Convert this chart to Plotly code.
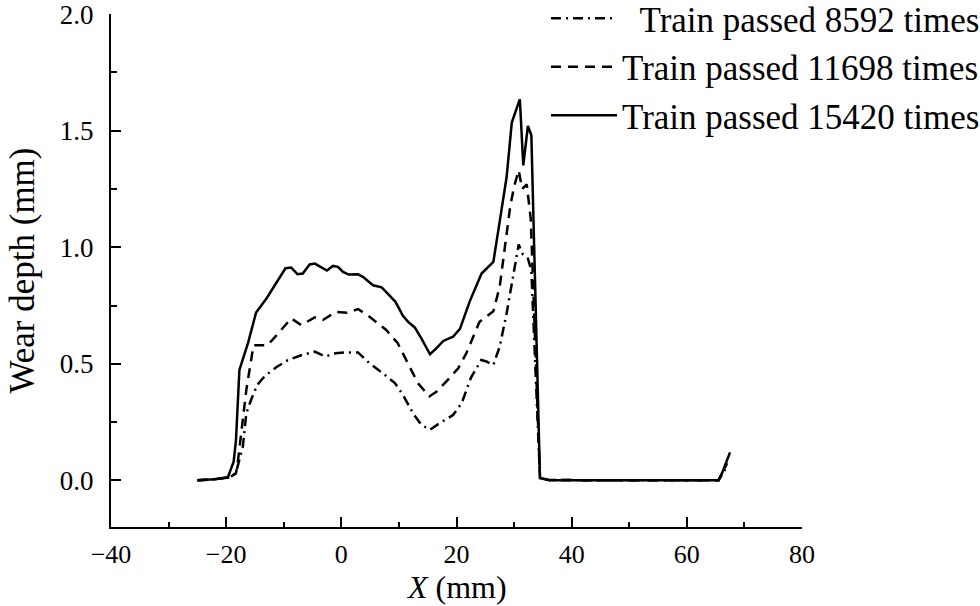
import plotly.graph_objects as go

# Wear profile across the rail head, X position (mm) vs wear depth (mm)
x_8592 = [-25, -22, -19.4, -18.3, -17.1, -16.5, -15.6, -14.6, -13.3, -11.3, -9.3, -6.8,
          -4.6, -2.8, -1.0, 0.9, 2.9, 4.9, 7.2, 9.3, 10.7, 12.45, 13.9, 15.4, 17.1, 19.4,
          20.9, 22.5, 24.3, 25.2, 26.4, 27.5, 28.7, 29.6, 30.8, 31.5, 32.4, 33.0, 34.5,
          36, 40, 45, 50, 55, 60, 65.5, 67.0]
y_8592 = [0.0, 0.005, 0.013, 0.032, 0.145, 0.288, 0.35, 0.41, 0.447, 0.485, 0.516, 0.538,
          0.552, 0.531, 0.545, 0.549, 0.549, 0.502, 0.46, 0.417, 0.367, 0.288, 0.238, 0.217,
          0.246, 0.28, 0.331, 0.44, 0.516, 0.51, 0.495, 0.573, 0.716, 0.845, 1.012, 0.97,
          0.952, 0.90, 0.01, 0.002, 0.0, 0.0, 0.0, 0.0, 0.0, 0.0, 0.06]

x_11698 = [-25, -22, -19.4, -18.3, -18.0, -17.4, -16.5, -15.25, -12.8, -10.7, -8.7, -7.0,
           -4.6, -3.2, -0.9, 1.0, 2.9, 4.9, 7.8, 9.8, 11.6, 13.3, 15.3, 16.5, 18.5, 20.3,
           21.7, 24.0, 26.4, 27.5, 28.4, 29.3, 30.0, 30.8, 31.4, 32.2, 32.9, 34.5,
           36, 40, 45, 50, 55, 60, 65.5, 67.0]
y_11698 = [0.0, 0.005, 0.013, 0.03, 0.074, 0.2, 0.388, 0.58, 0.58, 0.638, 0.695, 0.666,
           0.699, 0.688, 0.723, 0.719, 0.735, 0.702, 0.645, 0.588, 0.502, 0.417, 0.36, 0.38,
           0.431, 0.481, 0.545, 0.68, 0.725, 0.83, 1.0, 1.17, 1.26, 1.33, 1.25, 1.27, 1.12,
           0.01, 0.002, 0.0, 0.0, 0.0, 0.0, 0.0, 0.0, 0.074]

x_15420 = [-25, -22, -19.7, -18.7, -18.3, -17.7, -16.2, -14.8, -13.0, -11.3, -9.7, -8.7,
           -7.6, -6.7, -5.5, -4.6, -3.5, -2.5, -1.45, -0.6, 0.3, 1.3, 2.9, 3.75, 5.5, 7.0,
           8.1, 9.4, 10.7, 11.6, 12.75, 13.9, 15.4, 16.5, 17.7, 19.4, 20.6, 22.3, 24.35,
           26.4, 27.5, 28.7, 29.6, 31.0, 31.6, 32.4, 33.0, 34.5, 36.2, 40, 45, 50, 55, 60,
           65.5, 66.1, 67.5]
y_15420 = [0.0, 0.005, 0.014, 0.08, 0.17, 0.474, 0.59, 0.72, 0.78, 0.845, 0.91, 0.913,
           0.884, 0.887, 0.926, 0.93, 0.913, 0.90, 0.92, 0.916, 0.894, 0.883, 0.884, 0.873,
           0.837, 0.828, 0.80, 0.766, 0.706, 0.68, 0.656, 0.609, 0.541, 0.566, 0.598, 0.616,
           0.65, 0.768, 0.887, 0.937, 1.11, 1.30, 1.535, 1.635, 1.351, 1.52, 1.48, 0.01,
           0.0, 0.0, 0.0, 0.0, 0.0, 0.0, 0.0, 0.03, 0.12]

series = [
    ("\u00a0\u00a0Train passed 8592 times", x_8592, y_8592, "10px,5px,2px,5px"),
    ("Train passed 11698 times", x_11698, y_11698, "10px,7px"),
    ("Train passed 15420 times", x_15420, y_15420, "solid"),
]

x_ticks = [-40, -20, 0, 20, 40, 60, 80]
y_ticks = [0.0, 0.5, 1.0, 1.5, 2.0]

FONT = "Liberation Serif"

fig = go.Figure()
for name, xs, ys, dash in series:
    fig.add_trace(go.Scatter(
        x=xs, y=ys, mode="lines", name=name,
        line=dict(color="black", width=2.5, dash=dash),
    ))

axis_common = dict(
    showgrid=False, zeroline=False, showline=True, linecolor="black", linewidth=2,
    ticks="inside", ticklen=10, tickwidth=2, tickcolor="black",
    ticklabeloverflow="allow",
    mirror=False,
)

fig.update_xaxes(
    range=[-40, 80.001], tickvals=x_ticks,
    ticktext=[f"{v:g}".replace("-", "\u2212") for v in x_ticks],
    tickfont=dict(family=FONT, size=26, color="black"),
    minor=dict(ticks="inside", dtick=10, ticklen=5, tickwidth=2, tickcolor="black"),
    ticklabelstandoff=3,
    **axis_common,
)
fig.update_yaxes(
    range=[-0.2, 2.0005], tickvals=y_ticks, ticktext=[f"{v:.1f}" for v in y_ticks],
    tickfont=dict(family=FONT, size=27, color="black"),
    minor=dict(ticks="inside", dtick=0.25, tick0=0, ticklen=6, tickwidth=2, tickcolor="black"),
    title=dict(text="Wear depth (mm)", font=dict(family=FONT, size=35, color="black")),
    ticklabelstandoff=10,
    **axis_common,
)

# x-axis title placed just under the tick labels
fig.add_annotation(
    text="<i>X</i> (mm)", xref="paper", yref="paper", x=0.5, y=0,
    xanchor="center", yanchor="middle", yshift=-60, showarrow=False,
    font=dict(family=FONT, size=32, color="black"), borderpad=0,
)

fig.update_layout(
    width=980, height=606,
    margin=dict(l=111, r=178, t=14, b=79, autoexpand=False),
    paper_bgcolor="white", plot_bgcolor="white",
    font=dict(family=FONT, color="black"),
    legend=dict(
        xref="paper", yref="paper", x=1.2648, y=1.0487, xanchor="right", yanchor="top",
        font=dict(family=FONT, size=35, color="black"),
        bgcolor="rgba(0,0,0,0)", itemwidth=66, tracegroupgap=0,
    ),
    showlegend=True,
)

fig.write_html("out.html")
